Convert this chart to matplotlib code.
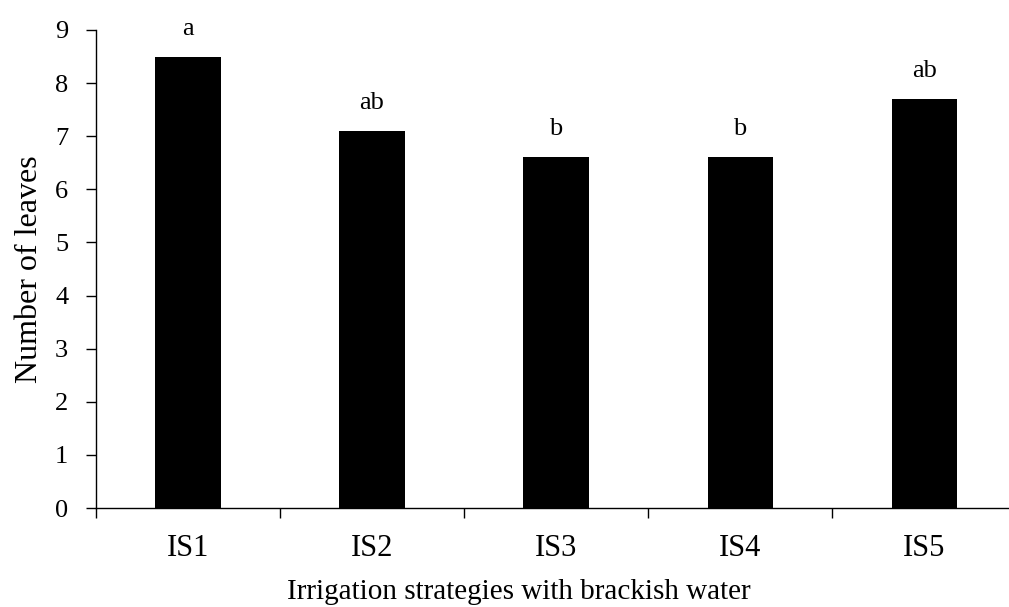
import matplotlib
matplotlib.use("Agg")
import matplotlib.pyplot as plt
import numpy as np

# Données
strategies = ["IS1", "IS2", "IS3", "IS4", "IS5"]
leaves = [8.5, 7.1, 6.6, 6.6, 7.7]
letters = ["a", "ab", "b", "b", "ab"]

plt.rcParams['font.family'] = ['Liberation Serif', 'DejaVu Serif']

fig = plt.figure(figsize=(10.09, 6.07), dpi=100)
ax = fig.add_axes([0.0951, 0.163, 0.912, 0.7876])

x = np.arange(len(strategies))
ax.bar(x, leaves, width=0.354, color="black")

for xi, v, lab in zip(x, leaves, letters):
    ax.text(xi, v + 0.32, lab, ha="center", va="bottom", fontsize=19)

ax.set_xlim(-0.5, len(strategies) - 0.5)
ax.set_ylim(0, 9)
ax.set_yticks(range(10))
ax.set_xticks(x)
ax.set_xticklabels(strategies, fontsize=22)
ax.set_xticks(np.arange(-0.5, len(strategies)), minor=True)
ax.tick_params(axis="x", which="major", length=0, pad=19)
ax.tick_params(axis="x", which="minor", length=7, width=1, direction="out")
ax.tick_params(axis="y", length=7, width=1, direction="out", labelsize=19, pad=13)

for s in ["top", "right"]:
    ax.spines[s].set_visible(False)
for s in ["left", "bottom"]:
    ax.spines[s].set_linewidth(1)

ax.set_ylabel("Number of leaves", fontsize=23, labelpad=8)
ax.set_xlabel("Irrigation strategies with brackish water", fontsize=21, labelpad=5)
ax.xaxis.set_label_coords(0.46, -0.148)
ax.xaxis.label.set_va("top")

fig.savefig("out.png", dpi=100)
